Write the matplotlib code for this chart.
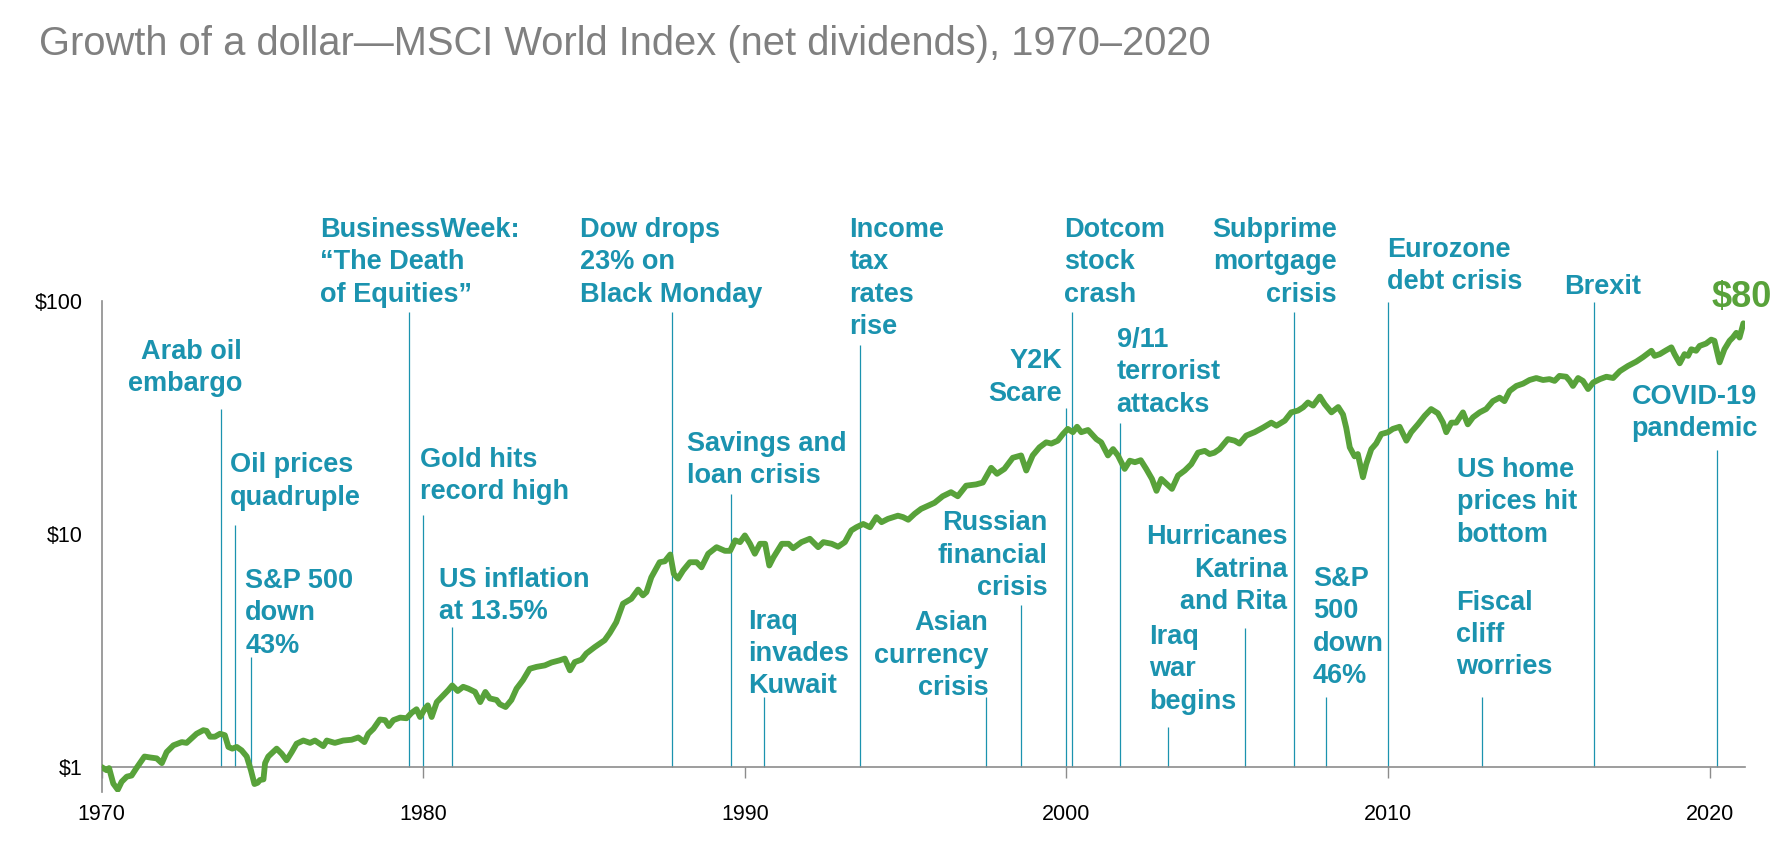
import matplotlib
matplotlib.use("Agg")
import matplotlib.pyplot as plt
from matplotlib.ticker import FixedLocator, FixedFormatter

# Growth of $1 (year, dollars)
years = [
    1970.00, 1970.15, 1970.23, 1970.36, 1970.50, 1970.62, 1970.78, 1970.93, 1971.08, 1971.33,
    1971.50, 1971.71, 1971.87, 1972.02, 1972.23, 1972.49, 1972.64, 1972.80, 1972.95, 1973.16,
    1973.26, 1973.37, 1973.52, 1973.68, 1973.83, 1973.94, 1974.06, 1974.20, 1974.35, 1974.51,
    1974.64, 1974.75, 1974.85, 1974.92, 1975.03, 1975.08, 1975.18, 1975.44, 1975.60, 1975.75,
    1975.91, 1976.06, 1976.27, 1976.48, 1976.63, 1976.89, 1977.00, 1977.25, 1977.51, 1977.77,
    1977.98, 1978.17, 1978.29, 1978.45, 1978.65, 1978.81, 1978.93, 1979.07, 1979.28, 1979.48,
    1979.64, 1979.79, 1979.90, 1980.05, 1980.14, 1980.26, 1980.42, 1980.62, 1980.78, 1980.90,
    1981.07, 1981.24, 1981.40, 1981.61, 1981.77, 1981.93, 1982.07, 1982.28, 1982.38, 1982.56,
    1982.74, 1982.90, 1983.10, 1983.31, 1983.52, 1983.78, 1983.99, 1984.24, 1984.40, 1984.56,
    1984.71, 1984.92, 1985.07, 1985.33, 1985.64, 1985.80, 1986.00, 1986.21, 1986.47, 1986.68,
    1986.83, 1986.94, 1987.09, 1987.35, 1987.51, 1987.68, 1987.79, 1987.92, 1988.08, 1988.29,
    1988.50, 1988.65, 1988.86, 1989.12, 1989.38, 1989.54, 1989.70, 1989.85, 1990.00, 1990.16,
    1990.31, 1990.47, 1990.63, 1990.76, 1990.89, 1991.15, 1991.36, 1991.50, 1991.76, 1992.02,
    1992.28, 1992.44, 1992.70, 1992.90, 1993.11, 1993.31, 1993.47, 1993.68, 1993.89, 1994.09,
    1994.25, 1994.45, 1994.76, 1994.92, 1995.08, 1995.28, 1995.48, 1995.69, 1995.90, 1996.15,
    1996.41, 1996.62, 1996.88, 1997.19, 1997.40, 1997.66, 1997.84, 1998.07, 1998.33, 1998.59,
    1998.75, 1998.95, 1999.16, 1999.37, 1999.53, 1999.73, 1999.89, 2000.04, 2000.20, 2000.33,
    2000.46, 2000.67, 2000.93, 2001.08, 2001.29, 2001.45, 2001.60, 2001.81, 2001.97, 2002.13,
    2002.31, 2002.48, 2002.66, 2002.80, 2002.95, 2003.11, 2003.28, 2003.47, 2003.68, 2003.88,
    2004.09, 2004.30, 2004.45, 2004.60, 2004.76, 2005.02, 2005.23, 2005.38, 2005.59, 2005.85,
    2006.12, 2006.37, 2006.53, 2006.79, 2006.99, 2007.20, 2007.36, 2007.51, 2007.67, 2007.88,
    2008.03, 2008.24, 2008.45, 2008.60, 2008.70, 2008.81, 2008.96, 2009.06, 2009.22, 2009.32,
    2009.48, 2009.63, 2009.79, 2010.00, 2010.15, 2010.36, 2010.57, 2010.72, 2010.93, 2011.14,
    2011.34, 2011.55, 2011.71, 2011.81, 2011.97, 2012.12, 2012.33, 2012.48, 2012.64, 2012.85,
    2013.05, 2013.26, 2013.47, 2013.62, 2013.78, 2013.99, 2014.20, 2014.40, 2014.61, 2014.82,
    2015.02, 2015.18, 2015.33, 2015.54, 2015.65, 2015.75, 2015.91, 2016.06, 2016.22, 2016.38,
    2016.59, 2016.79, 2017.00, 2017.21, 2017.46, 2017.72, 2017.93, 2018.19, 2018.29, 2018.45,
    2018.65, 2018.81, 2018.91, 2019.07, 2019.22, 2019.33, 2019.43, 2019.58, 2019.69, 2019.89,
    2020.05, 2020.15, 2020.31, 2020.46, 2020.62, 2020.72, 2020.83, 2020.93, 2021.05,
]
values = [
    1.00, 0.97, 0.99, 0.85, 0.80, 0.865, 0.91, 0.92, 0.99, 1.11,
    1.10, 1.09, 1.04, 1.16, 1.24, 1.28, 1.27, 1.33, 1.39, 1.44,
    1.43, 1.35, 1.35, 1.39, 1.37, 1.22, 1.20, 1.22, 1.18, 1.11,
    0.97, 0.846, 0.857, 0.88, 0.886, 1.04, 1.11, 1.20, 1.14, 1.07,
    1.16, 1.26, 1.30, 1.27, 1.30, 1.23, 1.30, 1.27, 1.30, 1.31,
    1.34, 1.28, 1.39, 1.46, 1.60, 1.59, 1.50, 1.59, 1.63, 1.62,
    1.71, 1.77, 1.64, 1.78, 1.84, 1.64, 1.90, 2.03, 2.14, 2.24,
    2.12, 2.21, 2.17, 2.10, 1.90, 2.10, 1.97, 1.94, 1.86, 1.81,
    1.94, 2.17, 2.36, 2.64, 2.69, 2.73, 2.81, 2.87, 2.92, 2.60,
    2.82, 2.89, 3.07, 3.27, 3.50, 3.76, 4.18, 5.02, 5.27, 5.77,
    5.45, 5.63, 6.51, 7.56, 7.63, 8.16, 6.74, 6.43, 6.97, 7.56,
    7.56, 7.19, 8.22, 8.77, 8.46, 8.46, 9.38, 9.22, 9.85, 9.07,
    8.22, 9.07, 9.07, 7.32, 7.94, 9.07, 9.07, 8.68, 9.22, 9.53,
    8.77, 9.22, 9.07, 8.81, 9.22, 10.35, 10.68, 11.03, 10.68, 11.80,
    11.23, 11.60, 11.97, 11.80, 11.50, 12.2, 12.8, 13.2, 13.6, 14.5,
    15.1, 14.5, 16.1, 16.3, 16.6, 19.2, 18.1, 19.0, 21.2, 21.7,
    18.7, 21.7, 23.5, 24.7, 24.4, 25.1, 26.8, 28.2, 27.3, 28.8,
    27.3, 27.9, 25.5, 24.7, 21.7, 23.1, 21.7, 19.0, 20.6, 20.3,
    20.7, 19.0, 17.2, 15.3, 17.2, 16.4, 15.6, 17.8, 18.7, 19.9,
    22.3, 22.7, 22.0, 22.3, 23.1, 25.5, 25.1, 24.4, 26.4, 27.3,
    28.6, 30.0, 29.1, 30.6, 33.2, 33.8, 34.9, 36.6, 35.5, 38.8,
    36.0, 33.2, 35.0, 32.5, 28.5, 23.5, 21.5, 22.0, 17.5, 19.9,
    23.1, 24.4, 26.8, 27.3, 28.2, 28.8, 25.1, 27.3, 29.5, 32.1,
    34.3, 32.9, 30.0, 27.3, 30.0, 30.0, 33.2, 29.5, 31.6, 33.2,
    34.3, 37.1, 38.4, 37.1, 41.0, 43.1, 44.1, 45.7, 46.6, 45.7,
    46.1, 45.3, 47.6, 47.2, 45.3, 43.1, 46.6, 45.3, 41.8, 44.6,
    46.1, 47.2, 46.6, 49.9, 52.5, 54.8, 57.3, 61.0, 58.0, 59.0,
    61.3, 63.1, 59.0, 53.9, 59.0, 58.0, 61.9, 61.0, 64.0, 65.5,
    68.1, 67.3, 54.4, 61.9, 67.3, 69.5, 72.8, 69.5, 80.0,
]

# events: label text, year of the marker line, value where the marker line stops
event_labels = [
    "Arab oil\nembargo",
    "Oil prices\nquadruple",
    "S&P 500\ndown\n43%",
    "BusinessWeek:\n\u201cThe Death\nof Equities\u201d",
    "Gold hits\nrecord high",
    "US inflation\nat 13.5%",
    "Dow drops\n23% on\nBlack Monday",
    "Savings and\nloan crisis",
    "Iraq\ninvades\nKuwait",
    "Income\ntax\nrates\nrise",
    "Asian\ncurrency\ncrisis",
    "Russian\nfinancial\ncrisis",
    "Y2K\nScare",
    "Dotcom\nstock\ncrash",
    "9/11\nterrorist\nattacks",
    "Iraq\nwar\nbegins",
    "Hurricanes\nKatrina\nand Rita",
    "Subprime\nmortgage\ncrisis",
    "S&P\n500\ndown\n46%",
    "Eurozone\ndebt crisis",
    "US home\nprices hit\nbottom",
    "Fiscal\ncliff\nworries",
    "Brexit",
    "COVID-19\npandemic",
]
event_years = [
    1973.72, 1974.14, 1974.63, 1979.56, 1979.99, 1980.90, 1987.72, 1989.58, 1990.58, 1993.58,
    1997.49, 1998.58, 1999.98, 2000.17, 2001.65, 2003.17, 2005.56, 2007.08, 2008.08, 2010.00,
    None, 2012.93, 2016.41, 2020.24,
]
event_tops = [
    34.4, 10.95, 2.98, 89.4, 12.0, 3.97, 89.4, 14.8, 1.99, 64.7,
    1.99, 4.97, 34.5, 89.4, 29.9, 1.49, 3.95, 89.4, 1.99, 99.0,
    None, 1.99, 99.0, 22.9,
]

# layout of the label blocks: (x in years, top of first line in dollars, alignment)
label_pos = [
    (1974.36, 68.5, "right"), (1973.98, 22.4, "left"), (1974.46, 7.14, "left"),
    (1976.78, 229.0, "left"), (1979.90, 23.6, "left"), (1980.50, 7.21, "left"),
    (1984.87, 229.0, "left"), (1988.21, 27.7, "left"), (1990.11, 4.78, "left"),
    (1993.25, 229.0, "left"), (1997.57, 4.71, "right"), (1999.42, 12.6, "right"),
    (1999.86, 62.4, "right"), (1999.92, 229.0, "left"), (2001.56, 77.3, "left"),
    (2002.57, 4.11, "left"), (2006.87, 10.99, "right"), (2008.40, 229.0, "right"),
    (2007.67, 7.29, "left"), (2009.97, 188.3, "left"), (2012.13, 21.4, "left"),
    (2012.11, 5.77, "left"), (2015.46, 130.6, "left"), (2017.57, 44.1, "left"),
]

x_ticks = [1970, 1980, 1990, 2000, 2010, 2020]
y_ticks = [1, 10, 100]
y_tick_labels = ["$1", "$10", "$100"]
end_label = "$80"

TEAL = "#1b93af"
GREEN = "#58a23a"
AXIS_GRAY = "#8c8c8c"
FONT = "Liberation Sans"

plt.rcParams["font.family"] = [FONT, "DejaVu Sans"]

fig = plt.figure(figsize=(17.88, 8.42), dpi=100)
ax = fig.add_axes([101.7 / 1788, 50 / 842, (1745 - 101.7) / 1788, (792 - 300.7) / 842])
ax.set_yscale("log")
ax.set_xlim(1970, 2021.1)
ax.set_ylim(0.782, 100)

# event marker lines
for yr, top in zip(event_years, event_tops):
    if yr is None:
        continue
    ax.vlines(yr, 1, top, color=TEAL, lw=0.9, zorder=2)

ax.plot(years, values, color=GREEN, lw=4.2, solid_joinstyle="round",
        solid_capstyle="round", zorder=4)

for text, (lx, ly, align) in zip(event_labels, label_pos):
    ax.text(lx, ly, text, ha=align, va="top", multialignment=align,
            fontsize=19.5, fontweight="bold", color=TEAL, linespacing=1.32,
            zorder=5, clip_on=False)

ax.text(2020.07, 94.0, end_label, ha="left", va="baseline", fontsize=26,
        fontweight="bold", color=GREEN, clip_on=False, zorder=5)

# axes styling
for side in ["top", "right"]:
    ax.spines[side].set_visible(False)
ax.spines["bottom"].set_position(("data", 1))
for side in ["left", "bottom"]:
    ax.spines[side].set_color(AXIS_GRAY)
    ax.spines[side].set_linewidth(1.2)

ax.xaxis.set_major_locator(FixedLocator(x_ticks))
ax.xaxis.set_minor_locator(FixedLocator([]))
ax.set_xticklabels([str(t) for t in x_ticks])
ax.tick_params(axis="x", direction="out", length=8, width=1.0, color=AXIS_GRAY,
               pad=18.5, labelsize=15.5, labelcolor="black")

ax.yaxis.set_major_locator(FixedLocator(y_ticks))
ax.yaxis.set_major_formatter(FixedFormatter(y_tick_labels))
ax.yaxis.set_minor_locator(FixedLocator([]))
ax.tick_params(axis="y", length=0, pad=13.5, labelsize=15.5, labelcolor="black")

fig.text(39 / 1788, 1 - 55 / 842,
         "Growth of a dollar\u2014MSCI World Index (net dividends), 1970\u20132020",
         ha="left", va="baseline", fontsize=28.7, color="#808080")

fig.savefig("out.png", dpi=100)
